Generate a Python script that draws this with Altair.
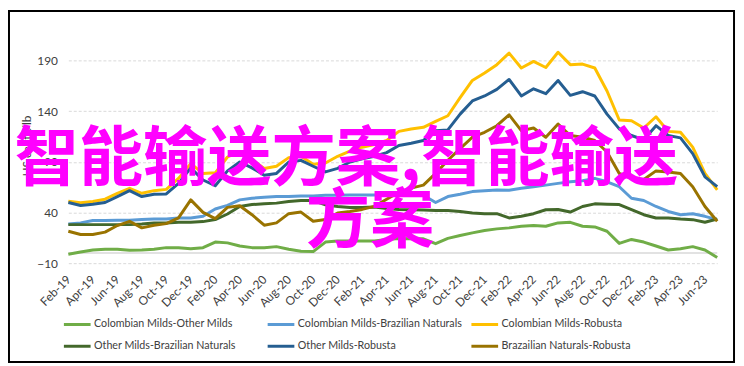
import altair as alt
import pandas as pd

MON = ["Jan", "Feb", "Mar", "Apr", "May", "Jun", "Jul", "Aug", "Sep", "Oct", "Nov", "Dec"]
months = [f"{m}-{y}" for y in range(19, 24) for m in MON][1:55]  # Feb-19 .. Jul-23
tick_labels = months[::2]

series_names = [
    "Colombian Milds-Other Milds",
    "Colombian Milds-Brazilian Naturals",
    "Colombian Milds-Robusta",
    "Other Milds-Brazilian Naturals",
    "Other Milds-Robusta",
    "Brazailian Naturals-Robusta",
]
colors = ["#70AD47", "#5B9BD5", "#FFC000", "#43682B", "#255E91", "#997300"]

cm_om = [-1.2, 1.0, 3.0, 3.7, 3.7, 2.7, 3.0, 3.7, 5.3, 5.3, 4.3, 5.3, 10.8, 10.0, 6.9, 5.3, 5.3, 6.3,
         3.7, 1.7, 1.4, 10.8, 11.8, 11.8, 11.8, 11.8, 13.4, 14.4, 14.0, 14.0, 9.2, 14.4, 17.3, 19.9,
         22.2, 23.8, 24.8, 26.4, 27.1, 26.4, 29.7, 30.3, 26.4, 25.7, 21.5, 9.5, 13.4, 10.8, 6.9, 3.0,
         4.3, 6.3, 3.0, -4.4]
cm_bn = [28.7, 29.7, 32.0, 32.0, 32.3, 32.3, 33.0, 33.6, 33.6, 34.6, 34.6, 36.2, 43.4, 47.0, 52.4,
         54.0, 55.0, 55.7, 55.7, 56.3, 56.3, 57.0, 57.0, 57.3, 57.3, 57.3, 58.0, 57.3, 57.3, 57.0,
         49.8, 55.7, 58.0, 60.6, 61.5, 62.2, 62.0, 63.8, 65.4, 67.0, 68.7, 70.3, 71.3, 73.6, 70.3,
         65.4, 54.0, 51.8, 45.9, 41.0, 37.8, 38.8, 36.2, 32.9]
cm_r = [51.0, 49.5, 50.8, 53.1, 58.9, 63.8, 58.9, 61.5, 62.8, 73.6, 88.2, 78.5, 79.1, 94.7, 100.0,
        92.0, 83.4, 85.6, 94.1, 95.4, 87.6, 88.8, 95.4, 100.5, 104.4, 107.1, 111.0, 120.0, 122.4,
        124.0, 129.8, 135.4, 153.2, 170.2, 177.6, 185.8, 197.2, 182.5, 189.0, 183.0, 198.0, 185.8,
        186.4, 182.5, 159.8, 131.2, 130.5, 123.3, 134.4, 120.0, 119.1, 104.4, 78.5, 62.2]
om_bn = [28.0, 28.0, 28.0, 28.0, 28.0, 28.0, 28.7, 29.7, 29.7, 30.3, 30.3, 31.0, 33.0, 38.5, 45.9,
         47.8, 48.5, 49.2, 50.8, 51.8, 51.8, 47.6, 45.9, 45.0, 45.0, 45.3, 44.0, 43.0, 42.7, 42.5,
         42.0, 42.0, 41.0, 39.5, 38.8, 38.8, 34.6, 36.2, 38.8, 42.7, 43.0, 40.4, 45.9, 48.5, 48.2,
         47.8, 42.7, 37.8, 34.6, 34.6, 33.6, 32.9, 30.3, 33.6]
om_r = [49.8, 46.9, 48.2, 49.8, 55.7, 61.5, 55.7, 58.0, 58.3, 68.7, 84.0, 72.0, 66.4, 81.0, 89.8,
        84.0, 76.8, 78.5, 89.8, 91.4, 85.6, 80.0, 83.5, 89.8, 93.0, 95.5, 99.0, 106.1, 108.3, 111.0,
        120.7, 121.4, 137.0, 150.0, 154.9, 161.4, 171.2, 154.9, 162.0, 157.1, 170.2, 155.5, 159.1,
        154.9, 137.0, 122.4, 115.9, 111.6, 125.6, 115.9, 113.6, 98.0, 75.2, 65.4]
bn_r = [21.5, 18.3, 18.3, 20.6, 27.1, 31.3, 24.8, 27.4, 29.0, 34.6, 52.4, 40.1, 34.0, 45.0, 46.6,
        37.8, 27.4, 29.7, 38.8, 40.4, 31.3, 33.0, 39.5, 41.0, 43.0, 46.0, 53.0, 60.0, 64.0, 67.0,
        78.5, 91.5, 102.9, 114.2, 119.1, 125.6, 136.3, 120.7, 123.3, 114.2, 127.3, 115.9, 114.2,
        111.0, 99.6, 78.5, 73.6, 72.6, 81.0, 80.0, 78.5, 65.4, 45.9, 31.3]

y_ticks = [-10, 40, 90, 140, 190]
overlay_line1 = "智能输送方案,智能输送"
overlay_line2 = "方案"

rows = []
for name, vals in zip(series_names, [cm_om, cm_bn, cm_r, om_bn, om_r, bn_r]):
    for i, (m, v) in enumerate(zip(months, vals)):
        rows.append({"month": m, "series": name, "value": v, "order": i})
df = pd.DataFrame(rows)

W, H = 656, 205
FONT = "Lato"
TXT = "#404040"

x_enc = alt.X(
    "month:N",
    sort=months,
    scale=alt.Scale(type="point", padding=0, domain=months),
    axis=alt.Axis(values=tick_labels, labelAngle=-45, labelAlign="right", labelBaseline="middle",
                  labelPadding=14, ticks=False, domain=False, grid=False, title=None,
                  labelFont=FONT, labelFontSize=12, labelColor=TXT, labelOverlap=False),
)
y_scale = alt.Scale(domain=[-10, 190], nice=False, zero=False)

lines = alt.Chart(df).mark_line(strokeWidth=3, strokeJoin="round").encode(
    x=x_enc,
    y=alt.Y("value:Q", scale=y_scale,
            axis=alt.Axis(values=y_ticks, domain=False, ticks=False, labelPadding=11,
                          labelFont=FONT, labelFontSize=12, labelColor=TXT,
                          grid=True, gridColor="#D9D9D9", gridDash=[3, 2], gridWidth=1,
                          title="US cents/lb", titleFont=FONT, titleFontSize=12,
                          titleFontWeight="normal", titleColor=TXT, titleAngle=-90,
                          titleX=-42, titleY=86, titleAlign="center", titleBaseline="middle")),
    color=alt.Color("series:N", sort=series_names,
                    scale=alt.Scale(domain=series_names, range=colors),
                    legend=alt.Legend(orient="none", legendX=-6, legendY=252, columns=3,
                                      direction="horizontal",
                                      gridAlign="all", columnPadding=3, rowPadding=1,
                                      symbolType="stroke", symbolSize=729, symbolStrokeWidth=3,
                                      labelFont=FONT, labelFontSize=10.8, labelColor=TXT,
                                      labelOffset=2, labelLimit=400, title=None)),
    order="order:Q",
)

one = pd.DataFrame({"v": [0]})
zero_rule = alt.Chart(one).mark_rule(color="#D9D9D9", strokeWidth=1.5).encode(
    y=alt.Y("v:Q", scale=y_scale)
)
border = alt.Chart(one).mark_rect(filled=False, stroke="black", strokeWidth=2).encode(
    x=alt.value(-60), x2=alt.value(673), y=alt.value(-50), y2=alt.value(305)
)
t1 = alt.Chart(one).mark_text(font="Noto Sans CJK SC", fontSize=65, fontWeight="bold",
                              color="#FF00FF", align="center", baseline="middle").encode(
    x=alt.value(281), y=alt.value(101), text=alt.value(overlay_line1))
t2 = alt.Chart(one).mark_text(font="Noto Sans CJK SC", fontSize=65, fontWeight="bold",
                              color="#FF00FF", align="center", baseline="middle").encode(
    x=alt.value(305), y=alt.value(164), text=alt.value(overlay_line2))

chart = alt.layer(border, zero_rule, lines, t1, t2).properties(
    width=W, height=H,
    padding={"left": 61, "top": 51, "right": 19, "bottom": 102},
    autosize=alt.AutoSizeParams(type="none"),
    background="white",
).configure_view(stroke=None)

chart.save("out.html", embed_options={"renderer": "svg", "actions": False})
